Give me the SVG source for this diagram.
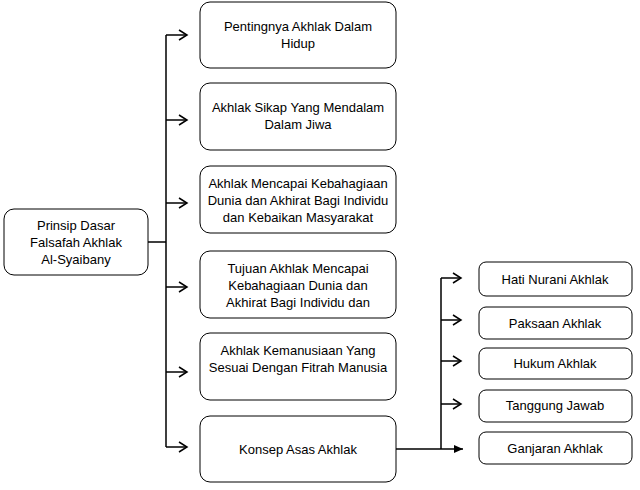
<svg xmlns="http://www.w3.org/2000/svg" width="640" height="490" viewBox="0 0 640 490">
<style>
.b{fill:#fff;stroke:#000;stroke-width:1}
text{font-family:"Liberation Sans",Arial,sans-serif;font-size:13px;fill:#000;text-anchor:middle}
.c{fill:none;stroke:#000;stroke-width:1.5}
</style>
<defs>
<marker id="o" markerWidth="12" markerHeight="12" refX="10" refY="6" orient="auto" markerUnits="userSpaceOnUse"><path d="M2,1 L10,6 L2,11" fill="none" stroke="#000" stroke-width="1.5"/></marker>
<marker id="f" markerWidth="12" markerHeight="12" refX="10" refY="6" orient="auto" markerUnits="userSpaceOnUse"><path d="M1,2 L10,6 L1,10 Z" fill="#000"/></marker>
</defs>
<rect width="640" height="490" fill="#fff"/>
<g id="connectors">
<path class="c" d="M148,242 H166 M166,35 V447"/>
<path class="c" marker-end="url(#o)" d="M166,35 H187"/>
<path class="c" marker-end="url(#o)" d="M166,120 H187"/>
<path class="c" marker-end="url(#o)" d="M166,203 H187"/>
<path class="c" marker-end="url(#o)" d="M166,287 H187"/>
<path class="c" marker-end="url(#o)" d="M166,372 H187"/>
<path class="c" marker-end="url(#o)" d="M166,447 H187"/>
<path class="c" d="M396,449 H441 M441,278 V449"/>
<path class="c" marker-end="url(#o)" d="M441,278 H461"/>
<path class="c" marker-end="url(#o)" d="M441,320 H461"/>
<path class="c" marker-end="url(#o)" d="M441,361 H461"/>
<path class="c" marker-end="url(#o)" d="M441,404 H461"/>
<path class="c" marker-end="url(#f)" d="M441,449 H463"/>
</g>
<g id="root"><rect class="b" x="4" y="209" width="144" height="66" rx="10"/><text x="76" y="230">Prinsip Dasar</text><text x="76" y="247">Falsafah Akhlak</text><text x="76" y="264">Al-Syaibany</text></g>
<g id="n1"><rect class="b" x="200" y="2" width="196" height="66" rx="10"/><text x="298" y="31">Pentingnya Akhlak Dalam</text><text x="298" y="48">Hidup</text></g>
<g id="n2"><rect class="b" x="200" y="83" width="196" height="67" rx="10"/><text x="298" y="112">Akhlak Sikap Yang Mendalam</text><text x="298" y="129">Dalam Jiwa</text></g>
<g id="n3"><rect class="b" x="200" y="166" width="196" height="67" rx="10"/><text x="298" y="188">Akhlak Mencapai Kebahagiaan</text><text x="298" y="205">Dunia dan Akhirat Bagi Individu</text><text x="298" y="222">dan Kebaikan Masyarakat</text></g>
<g id="n4"><rect class="b" x="200" y="251" width="196" height="67" rx="10"/><text x="298" y="273">Tujuan Akhlak Mencapai</text><text x="298" y="290">Kebahagiaan Dunia dan</text><text x="298" y="307">Akhirat Bagi Individu dan</text></g>
<g id="n5"><rect class="b" x="200" y="333" width="196" height="67" rx="10"/><text x="298" y="355">Akhlak Kemanusiaan Yang</text><text x="298" y="372">Sesuai Dengan Fitrah Manusia</text></g>
<g id="n6"><rect class="b" x="200" y="416" width="196" height="66" rx="10"/><text x="298" y="454">Konsep Asas Akhlak</text></g>
<g id="r1"><rect class="b" x="479" y="262" width="153" height="34" rx="7"/><text x="555" y="284">Hati Nurani Akhlak</text></g>
<g id="r2"><rect class="b" x="479" y="307" width="153" height="32" rx="7"/><text x="555" y="328">Paksaan Akhlak</text></g>
<g id="r3"><rect class="b" x="479" y="348" width="153" height="31" rx="7"/><text x="555" y="368">Hukum Akhlak</text></g>
<g id="r4"><rect class="b" x="479" y="390" width="153" height="32" rx="7"/><text x="555" y="410">Tanggung Jawab</text></g>
<g id="r5"><rect class="b" x="479" y="432" width="153" height="32" rx="7"/><text x="555" y="453">Ganjaran Akhlak</text></g>
</svg>
